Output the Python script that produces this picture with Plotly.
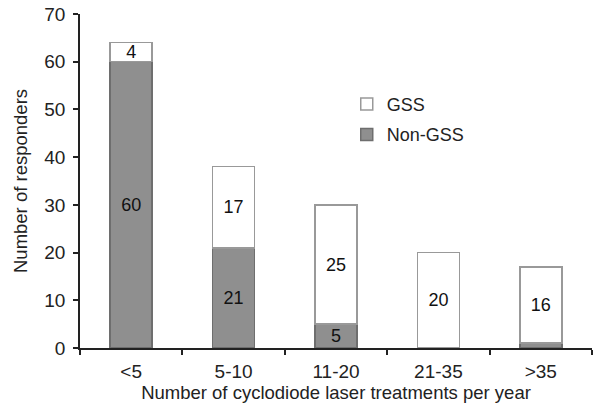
import plotly.graph_objects as go

categories = ["<5", "5-10", "11-20", "21-35", ">35"]
non_gss = [60, 21, 5, 0, 1]
gss = [4, 17, 25, 20, 16]
non_gss_labels = ["60", "21", "5", "", ""]
gss_labels = ["4", "17", "25", "20", "16"]

FAM = "Liberation Sans, Arial, sans-serif"
font = dict(family=FAM, size=18, color="#222")

non_gss_plot = [v if v else None for v in non_gss]

fig = go.Figure()
fig.add_trace(go.Bar(
    x=categories, y=non_gss_plot, name="Non-GSS", text=non_gss_labels,
    textposition="inside", insidetextanchor="middle", textangle=0,
    textfont=dict(family=FAM, size=18, color="#111"),
    marker=dict(color="#8f8f8f", line=dict(color="#6e6e6e", width=1.5)),
    width=0.41, legendrank=2, legendgroup="b",
))
fig.add_trace(go.Bar(
    x=categories, y=gss, name="GSS", text=gss_labels,
    textposition="inside", insidetextanchor="middle", textangle=0,
    textfont=dict(family=FAM, size=18, color="#111"),
    marker=dict(color="white", line=dict(color="#999999", width=1.5)),
    width=0.41, legendrank=1, legendgroup="a",
))

fig.update_layout(
    barmode="stack",
    width=594, height=407,
    margin=dict(l=80, r=2, t=14, b=59),
    paper_bgcolor="white", plot_bgcolor="white",
    font=font,
    uniformtext=dict(minsize=18, mode="show"),
    legend=dict(x=0.521, y=0.785, xanchor="left", yanchor="top",
                traceorder="grouped", tracegroupgap=4, font=dict(size=18),
                bgcolor="rgba(0,0,0,0)", itemwidth=30),
    xaxis=dict(
        title=dict(text="Number of cyclodiode laser treatments per year",
                   standoff=3, font=dict(size=18.5)),
        showline=True, linecolor="#222", linewidth=1.5,
        ticks="outside", tickson="boundaries", ticklen=5, tickcolor="#222",
        tickwidth=1.5, range=[-0.5, 4.5], automargin=False,
        tickfont=dict(size=19), ticklabelstandoff=5,
    ),
    yaxis=dict(
        title=dict(text="Number of responders", standoff=12, font=dict(size=18.5)),
        range=[0, 70], dtick=10,
        showline=True, linecolor="#222", linewidth=1.5,
        ticks="outside", ticklen=5, tickcolor="#222", tickwidth=1.5,
        showgrid=False, zeroline=False, automargin=False,
        tickfont=dict(size=19), ticklabelstandoff=4,
    ),
)

fig.write_html("out.html", config={"displayModeBar": False},
               post_script="document.body.style.margin='0';")
